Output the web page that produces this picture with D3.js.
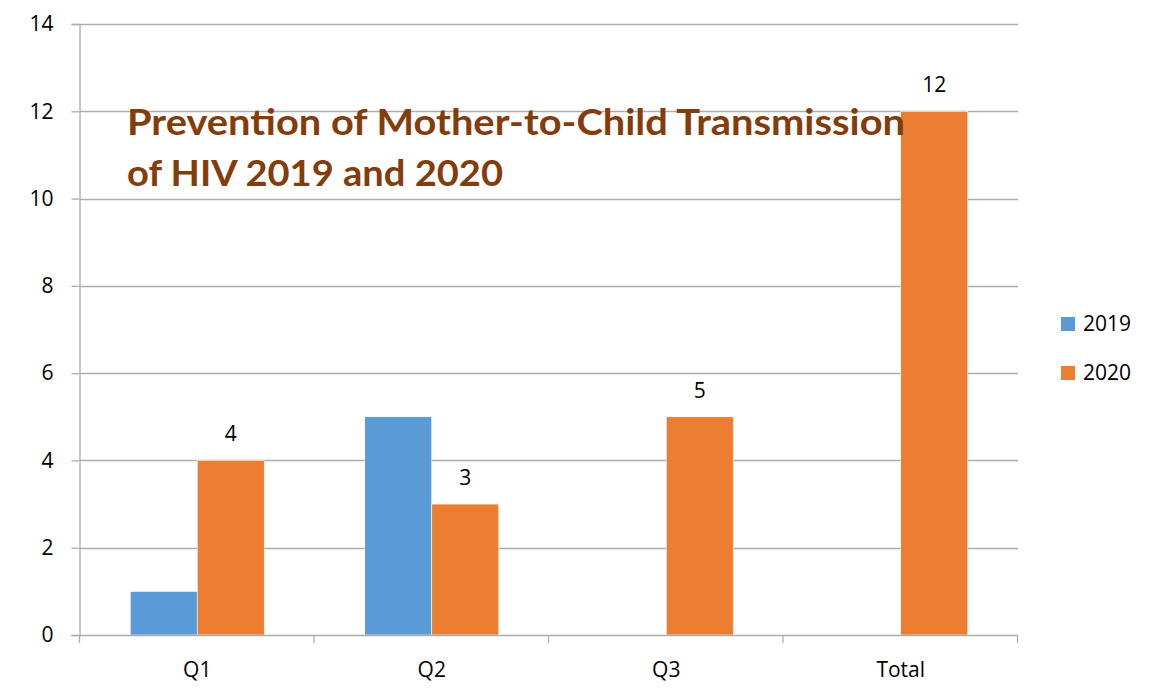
<!DOCTYPE html>
<html><head><meta charset="utf-8">
<script src="https://cdn.jsdelivr.net/npm/d3@7"></script>
<style>body{margin:0;background:#fff}svg{display:block}</style>
</head><body>
<svg id="c" width="1152" height="693"></svg>
<script>
const categories = ["Q1","Q2","Q3","Total"];
const seriesNames = ["2019","2020"];
const values2019 = [1,5,0,0];
const values2020 = [4,3,5,12];
const showLabels = [false,true];
const yTicks = [0,2,4,6,8,10,12,14];
const titleLines = ["Prevention of Mother-to-Child Transmission","of HIV 2019 and 2020"];
const colors = ["#5B9BD5","#ED7D31"];

const svg = d3.select("#c");
const L=80,R=1018,T=24,B=635;
const font = "'Open Sans', 'Liberation Sans', sans-serif";
const fs = 21;
const y = d3.scaleLinear().domain([0,14]).range([B,T]);
const x0 = d3.scaleBand().domain(categories).range([L,R]).padding(0);
const x1 = d3.scaleBand().domain(seriesNames).range([0,x0.bandwidth()]).paddingInner(0).paddingOuter(0.75);

// gridlines
svg.append("g").selectAll("line").data(yTicks.filter(d=>d>0)).join("line")
  .attr("x1",L).attr("x2",R).attr("y1",d=>Math.round(y(d))+0.5).attr("y2",d=>Math.round(y(d))+0.5)
  .attr("stroke","#ADADAD").attr("stroke-width",1.3);

// y axis
const ya = svg.append("g").attr("transform",`translate(${L-0.5},0)`)
  .call(d3.axisLeft(y).tickValues(yTicks).tickSize(8).tickPadding(18).tickFormat(d3.format("d")));
ya.select(".domain").attr("stroke","#ADADAD").attr("stroke-width",1.3);
ya.selectAll(".tick line").attr("stroke","#ADADAD").attr("stroke-width",1.3);
ya.selectAll("text").attr("font-family",font).attr("font-size",fs).attr("fill","#000");

// bars
const data = categories.map((c,i)=>({cat:c, vals:[values2019[i],values2020[i]]}));
const grp = svg.append("g").selectAll("g").data(data).join("g")
  .attr("transform",d=>`translate(${x0(d.cat)},0)`);
grp.selectAll("rect").data(d=>d.vals.map((v,j)=>({s:seriesNames[j],v,j})).filter(e=>e.v>0)).join("rect")
  .attr("x",e=>x1(e.s)).attr("width",x1.bandwidth())
  .attr("y",e=>y(e.v)).attr("height",e=>B-y(e.v))
  .attr("fill",e=>colors[e.j]).attr("stroke","#fff").attr("stroke-width",0.6);
grp.selectAll("text").data(d=>d.vals.map((v,j)=>({s:seriesNames[j],v,j})).filter(e=>e.v>0&&showLabels[e.j])).join("text")
  .attr("x",e=>x1(e.s)+x1.bandwidth()/2).attr("y",e=>y(e.v)-19)
  .attr("text-anchor","middle").attr("font-family",font).attr("font-size",fs).attr("fill","#000")
  .text(e=>e.v);

// x axis
const xa = svg.append("g").attr("transform",`translate(0,${B+0.5})`)
  .call(d3.axisBottom(x0).tickSize(0).tickPadding(27));
xa.select(".domain").remove();
svg.append("line").attr("x1",L).attr("x2",R).attr("y1",B+0.5).attr("y2",B+0.5).attr("stroke","#ADADAD").attr("stroke-width",1.3);
const bounds = categories.map(c=>x0(c)).concat([R]);
svg.append("g").selectAll("line").data(bounds).join("line")
  .attr("x1",d=>d-0.5).attr("x2",d=>d-0.5).attr("y1",B).attr("y2",B+8).attr("stroke","#ADADAD").attr("stroke-width",1.3);
xa.selectAll("text").attr("font-family",font).attr("font-size",fs).attr("fill","#000");

// title
const tl = [778,376];
svg.append("g").selectAll("text").data(titleLines).join("text")
  .attr("x",127).attr("y",(d,i)=>135+i*51)
  .attr("font-family","Lato, 'Open Sans', sans-serif").attr("font-weight","bold").attr("font-size",36)
  .attr("fill","#843C0C").attr("textLength",(d,i)=>tl[i]).attr("lengthAdjust","spacingAndGlyphs")
  .text(d=>d);

// legend
const lg = svg.append("g").selectAll("g").data(seriesNames).join("g")
  .attr("transform",(d,i)=>`translate(1061,${317+i*49})`);
lg.append("rect").attr("width",14).attr("height",14).attr("fill",(d,i)=>colors[i]);
lg.append("text").attr("x",22).attr("y",7).attr("dy","0.35em").attr("font-family",font).attr("font-size",fs).attr("fill","#000").text(d=>d);
</script>
</body></html>
